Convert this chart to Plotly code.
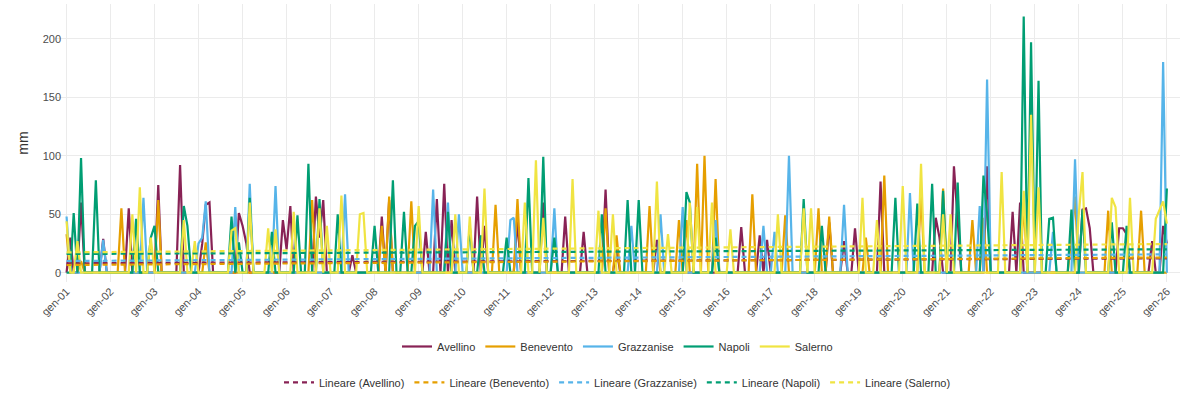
import pandas as pd
import plotly.graph_objects as go

# ---------------- data (monthly precipitation, mm) ----------------
start_month = "2001-01-01"
n_months = 301

avellino = [
    0, 30, 0, 0, 60, 0, 0, 0, 0, 0, 29, 0,
    0, 0, 0, 0, 0, 55, 0, 0, 0, 0, 0, 0,
    0, 75, 0, 0, 0, 0, 0, 92, 0, 0, 0, 0,
    0, 25, 58, 60, 0, 0, 0, 0, 0, 0, 0, 51,
    40, 25, 0, 0, 0, 0, 0, 0, 0, 0, 0, 45,
    20, 57, 0, 0, 0, 0, 0, 0, 65, 30, 62, 0,
    0, 0, 0, 0, 0, 0, 15, 0, 0, 0, 0, 0,
    0, 0, 48, 0, 62, 0, 0, 0, 0, 0, 0, 0,
    0, 0, 35, 0, 0, 63, 0, 76, 0, 45, 0, 0,
    0, 0, 0, 0, 65, 0, 40, 0, 0, 0, 0, 0,
    0, 0, 0, 45, 0, 0, 0, 0, 0, 0, 60, 0,
    0, 0, 0, 0, 48, 0, 0, 0, 0, 35, 0, 0,
    0, 0, 0, 71, 0, 0, 20, 0, 0, 0, 0, 0,
    0, 0, 0, 0, 0, 28, 0, 0, 0, 0, 0, 0,
    0, 0, 0, 0, 0, 0, 0, 0, 0, 0, 0, 0,
    0, 0, 0, 0, 39, 0, 0, 0, 0, 32, 0, 28,
    0, 0, 0, 0, 0, 0, 0, 0, 0, 0, 0, 0,
    0, 0, 0, 0, 43, 0, 0, 0, 27, 0, 0, 38,
    0, 0, 0, 0, 0, 0, 78, 0, 0, 0, 0, 0,
    0, 0, 0, 0, 0, 0, 0, 0, 0, 47, 30, 0,
    0, 0, 91, 40, 0, 0, 0, 0, 0, 0, 0, 91,
    0, 0, 0, 0, 0, 0, 52, 0, 60, 0, 0, 0,
    0, 0, 0, 0, 0, 0, 0, 0, 0, 0, 0, 0,
    0, 54, 55, 38, 0, 0, 0, 0, 0, 0, 0, 38,
    38, 33, 0, 0, 0, 0, 0, 0, 27, 0, 0, 40,
    25,
]

benevento = [
    33, 0, 0, 0, 10, 0, 0, 0, 0, 0, 0, 0,
    0, 0, 0, 55, 0, 0, 0, 0, 0, 0, 0, 0,
    0, 62, 0, 0, 0, 0, 0, 0, 0, 0, 0, 0,
    0, 0, 26, 0, 0, 0, 0, 0, 0, 0, 0, 0,
    0, 0, 0, 0, 0, 0, 0, 0, 0, 0, 0, 0,
    0, 0, 0, 0, 0, 0, 0, 62, 0, 0, 0, 0,
    0, 0, 0, 0, 0, 0, 0, 0, 0, 0, 0, 0,
    0, 0, 40, 0, 65, 0, 0, 0, 0, 0, 61, 0,
    0, 0, 0, 0, 0, 0, 0, 0, 0, 0, 0, 0,
    0, 0, 0, 0, 0, 0, 0, 0, 0, 58, 0, 0,
    0, 0, 0, 63, 0, 0, 0, 0, 0, 0, 0, 0,
    0, 0, 0, 0, 0, 0, 0, 0, 0, 0, 0, 0,
    0, 0, 0, 55, 0, 0, 32, 0, 0, 0, 0, 0,
    0, 0, 0, 57, 0, 0, 0, 0, 0, 0, 0, 45,
    0, 45, 0, 0, 93, 0, 100, 0, 0, 80, 0, 0,
    0, 0, 0, 0, 0, 0, 0, 67, 0, 0, 0, 0,
    0, 0, 0, 0, 49, 0, 0, 0, 0, 0, 0, 0,
    0, 55, 0, 0, 48, 0, 0, 0, 0, 0, 0, 0,
    0, 0, 30, 0, 0, 0, 0, 83, 0, 0, 0, 0,
    0, 0, 0, 0, 0, 68, 0, 0, 0, 0, 0, 72,
    0, 0, 0, 0, 0, 0, 0, 45, 0, 0, 47, 0,
    0, 0, 0, 0, 0, 0, 0, 0, 0, 60, 0, 0,
    0, 0, 0, 0, 0, 0, 0, 0, 0, 0, 30, 65,
    0, 0, 0, 0, 0, 0, 0, 0, 53, 0, 0, 0,
    0, 0, 0, 0, 0, 53, 0, 0, 0, 0, 0, 0,
    0,
]

grazzanise = [
    48, 0, 0, 0, 0, 0, 0, 0, 0, 0, 28, 0,
    0, 0, 0, 0, 0, 0, 0, 0, 0, 64, 0, 0,
    0, 0, 0, 0, 0, 0, 0, 0, 0, 0, 0, 0,
    25, 30, 61, 0, 0, 0, 0, 0, 0, 0, 56, 0,
    0, 0, 76, 0, 0, 0, 0, 0, 0, 74, 0, 0,
    0, 0, 0, 0, 0, 0, 0, 0, 0, 0, 0, 0,
    0, 0, 0, 0, 67, 0, 0, 0, 0, 0, 0, 0,
    0, 0, 0, 0, 0, 0, 0, 0, 0, 0, 0, 0,
    0, 0, 0, 0, 71, 0, 0, 0, 60, 0, 0, 50,
    0, 0, 0, 0, 0, 0, 0, 0, 0, 0, 0, 0,
    0, 45, 47, 0, 0, 0, 0, 0, 0, 0, 0, 0,
    0, 55, 0, 0, 0, 0, 0, 0, 0, 0, 0, 0,
    0, 0, 0, 0, 0, 0, 0, 0, 0, 0, 40, 0,
    0, 0, 0, 0, 0, 0, 50, 0, 0, 0, 0, 0,
    56, 0, 0, 0, 0, 0, 0, 0, 0, 45, 0, 0,
    0, 0, 0, 0, 0, 0, 0, 0, 0, 0, 40, 0,
    0, 35, 0, 0, 0, 100, 0, 0, 0, 0, 0, 0,
    0, 0, 0, 0, 0, 0, 0, 0, 58, 0, 0, 0,
    0, 0, 0, 0, 0, 0, 0, 0, 0, 0, 0, 0,
    0, 0, 68, 0, 0, 0, 0, 0, 0, 0, 0, 0,
    0, 0, 0, 0, 0, 0, 0, 0, 0, 57, 0, 165,
    0, 0, 0, 0, 0, 0, 0, 0, 0, 0, 0, 0,
    0, 0, 0, 0, 0, 35, 0, 0, 0, 0, 0, 97,
    0, 0, 0, 0, 0, 0, 0, 0, 0, 0, 0, 0,
    0, 0, 0, 0, 0, 0, 0, 0, 0, 0, 0, 180,
    0,
]

napoli = [
    0, 0, 51, 0, 98, 0, 0, 0, 79, 0, 0, 0,
    0, 0, 0, 0, 0, 0, 0, 46, 0, 0, 0, 30,
    40, 0, 0, 0, 0, 0, 0, 0, 57, 40, 0, 0,
    0, 0, 0, 0, 0, 0, 0, 0, 0, 48, 0, 26,
    0, 0, 64, 0, 0, 0, 0, 0, 35, 0, 0, 0,
    0, 0, 0, 49, 0, 0, 93, 0, 0, 63, 0, 0,
    0, 0, 50, 0, 0, 0, 0, 0, 0, 0, 0, 0,
    40, 0, 0, 0, 0, 79, 0, 0, 52, 0, 0, 40,
    44, 0, 0, 0, 0, 0, 0, 0, 52, 0, 0, 0,
    0, 0, 40, 0, 0, 32, 0, 0, 0, 0, 0, 0,
    30, 0, 0, 0, 0, 0, 81, 0, 0, 0, 99, 0,
    0, 30, 0, 0, 0, 0, 0, 0, 0, 0, 0, 0,
    0, 0, 50, 0, 0, 0, 0, 0, 0, 62, 0, 0,
    62, 0, 0, 0, 0, 0, 0, 0, 0, 0, 0, 0,
    0, 69, 60, 0, 0, 0, 0, 0, 0, 30, 0, 0,
    0, 0, 0, 0, 0, 0, 0, 0, 0, 0, 0, 0,
    0, 0, 0, 0, 0, 0, 0, 0, 0, 63, 0, 0,
    0, 0, 40, 0, 0, 0, 0, 0, 0, 0, 0, 0,
    0, 0, 0, 0, 0, 0, 0, 0, 0, 0, 64, 0,
    0, 0, 0, 0, 59, 0, 0, 0, 76, 0, 0, 70,
    0, 0, 0, 77, 0, 0, 0, 0, 0, 0, 83, 50,
    0, 0, 0, 0, 0, 0, 0, 0, 0, 219, 0, 197,
    0, 164, 0, 0, 46, 47, 0, 0, 0, 0, 54, 0,
    0, 54, 0, 0, 0, 0, 0, 0, 0, 43, 0, 0,
    0, 40, 0, 0, 0, 0, 0, 0, 0, 0, 0, 0,
    72,
]

salerno = [
    44, 0, 0, 27, 0, 0, 0, 0, 0, 0, 0, 0,
    0, 0, 0, 0, 0, 0, 50, 0, 73, 0, 0, 30,
    0, 0, 0, 0, 0, 0, 0, 0, 45, 0, 0, 27,
    0, 0, 0, 0, 0, 0, 0, 0, 0, 36, 38, 0,
    0, 0, 60, 0, 0, 0, 0, 38, 0, 37, 0, 0,
    0, 0, 52, 0, 0, 0, 0, 0, 0, 55, 0, 40,
    0, 0, 0, 66, 0, 0, 0, 0, 50, 51, 0, 0,
    0, 0, 0, 0, 0, 0, 0, 0, 0, 0, 0, 0,
    57, 0, 0, 0, 0, 0, 0, 0, 0, 0, 50, 0,
    0, 0, 48, 0, 0, 0, 72, 0, 0, 0, 0, 0,
    0, 0, 0, 0, 0, 60, 0, 0, 96, 0, 47, 0,
    0, 0, 0, 0, 0, 0, 80, 0, 0, 0, 0, 0,
    0, 53, 0, 0, 0, 50, 0, 0, 0, 0, 0, 0,
    0, 0, 0, 0, 0, 78, 0, 0, 33, 0, 0, 0,
    0, 0, 60, 0, 56, 0, 0, 0, 60, 0, 0, 0,
    0, 37, 0, 0, 0, 0, 0, 0, 0, 0, 0, 0,
    0, 0, 50, 0, 0, 0, 0, 0, 0, 55, 0, 55,
    0, 0, 0, 0, 0, 0, 0, 0, 0, 0, 0, 0,
    0, 64, 0, 0, 0, 45, 0, 0, 0, 0, 0, 0,
    74, 0, 0, 0, 0, 93, 0, 0, 0, 0, 0, 50,
    0, 50, 0, 0, 0, 0, 0, 0, 0, 0, 0, 0,
    0, 0, 0, 86, 0, 0, 0, 0, 0, 70, 0, 135,
    0, 73, 0, 0, 0, 0, 0, 0, 0, 0, 0, 0,
    50, 86, 0, 0, 0, 0, 0, 0, 0, 64, 56, 0,
    0, 0, 64, 0, 0, 0, 0, 0, 0, 46, 53, 61,
    42,
]

series_names = ["Avellino", "Benevento", "Grazzanise", "Napoli", "Salerno"]
series_colors = ["#882255", "#E69F00", "#56B4E9", "#009E73", "#F0E442"]
series_values = [avellino, benevento, grazzanise, napoli, salerno]

# linear trend values at the first and last month
trend_start = [8.0, 6.6, 10.0, 16.0, 17.4]
trend_end = [12.3, 13.0, 15.7, 20.0, 24.5]

tick_labels = ["gen-01", "gen-02", "gen-03", "gen-04", "gen-05", "gen-06",
               "gen-07", "gen-08", "gen-09", "gen-10", "gen-11", "gen-12",
               "gen-13", "gen-14", "gen-15", "gen-16", "gen-17", "gen-18",
               "gen-19", "gen-20", "gen-21", "gen-22", "gen-23", "gen-24",
               "gen-25", "gen-26"]

# ---------------- figure ----------------
dates = pd.date_range(start_month, periods=n_months, freq="MS")
tick_vals = pd.date_range(start_month, periods=len(tick_labels), freq="12MS")

fig = go.Figure()
for name, color, vals in zip(series_names, series_colors, series_values):
    fig.add_trace(go.Scatter(
        x=dates, y=vals, mode="lines", name=name,
        line=dict(color=color, width=2.2), legend="legend",
    ))

for name, color, y0, y1 in zip(series_names, series_colors, trend_start, trend_end):
    fig.add_trace(go.Scatter(
        x=[dates[0], dates[-1]], y=[y0, y1], mode="lines",
        name=f"Lineare ({name})",
        line=dict(color=color, width=2.2, dash="5px,4px"), legend="legend2",
    ))

font_family = "Liberation Sans, Arial, sans-serif"
fig.update_layout(
    width=1200, height=420,
    margin=dict(l=55, r=20, t=4, b=138, autoexpand=False),
    paper_bgcolor="white", plot_bgcolor="white",
    font=dict(family=font_family, size=11, color="#4d4d4d"),
    showlegend=True,
    legend=dict(orientation="h", x=0.5, xanchor="center", y=-0.232, yanchor="middle",
                itemwidth=30,
                font=dict(size=11, color="#333333"), bgcolor="rgba(0,0,0,0)"),
    legend2=dict(orientation="h", x=0.5, xanchor="center", y=-0.361, yanchor="middle",
                 itemwidth=30,
                 font=dict(size=11, color="#333333"), bgcolor="rgba(0,0,0,0)"),
    xaxis=dict(
        range=["2000-09-27", "2026-04-20"],
        tickvals=tick_vals, ticktext=tick_labels, tickangle=-45,
        showgrid=True, gridcolor="#ebebeb", gridwidth=1,
        zeroline=False, showline=False, ticks="", ticklen=0,
        tickfont=dict(size=11, color="#4d4d4d"),
    ),
    yaxis=dict(
        range=[-7.95, 229.65],
        tickvals=[0, 50, 100, 150, 200],
        showgrid=True, gridcolor="#ebebeb", gridwidth=1,
        zeroline=False, showline=False, ticks="", ticklen=0,
        ticklabelstandoff=-7,
        tickfont=dict(size=11, color="#4d4d4d"),
        title=dict(text="mm", font=dict(size=14, color="#333333"), standoff=10),
    ),
)

fig.write_html("out.html")
